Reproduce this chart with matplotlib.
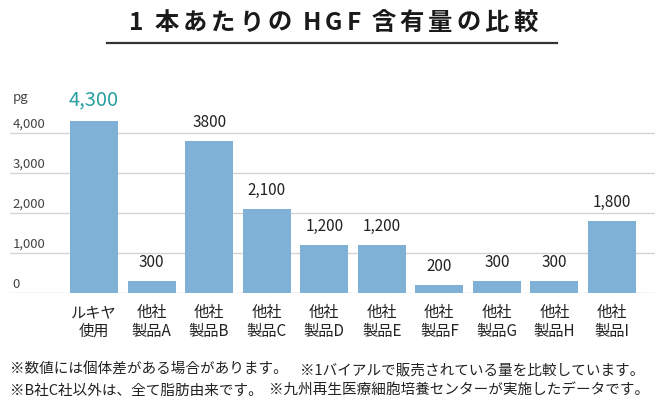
import matplotlib
matplotlib.use("Agg")
import matplotlib.pyplot as plt
from matplotlib.lines import Line2D
from matplotlib.font_manager import FontProperties

plt.rcParams['font.family'] = ['Noto Sans CJK JP', 'DejaVu Sans']

categories = ["ルキヤ\n使用", "他社\n製品A", "他社\n製品B", "他社\n製品C", "他社\n製品D",
              "他社\n製品E", "他社\n製品F", "他社\n製品G", "他社\n製品H", "他社\n製品I"]
values = [4300, 300, 3800, 2100, 1200, 1200, 200, 300, 300, 1800]
value_labels = ["4,300", "300", "3800", "2,100", "1,200", "1,200", "200", "300", "300", "1,800"]
yticks = [0, 1000, 2000, 3000, 4000]
ytick_labels = ["0", "1,000", "2,000", "3,000", "4,000"]
unit = "pg"
title = "1 本あたりの HGF 含有量の比較"
notes = [("※数値には個体差がある場合があります。", "※1バイアルで販売されている量を比較しています。"),
         ("※B社C社以外は、全て脂肪由来です。", "※九州再生医療細胞培養センターが実施したデータです。")]

W, H = 666, 412
fig = plt.figure(figsize=(W / 100, H / 100), dpi=100)

def fx(px):
    return px / W

def fy(py):
    return 1 - py / H

BAR = "#7fb1d6"
TEAL = "#2a9fa0"
TXT = "#222222"
GRID = "#d4d4d4"

# axes in pixel coordinates: x 10..655, y 93..293
ax_left, ax_right, ax_top, ax_bottom = 10, 655, 93, 293
ax = fig.add_axes([fx(ax_left), fy(ax_bottom), (ax_right - ax_left) / W, (ax_bottom - ax_top) / H])
ax.set_ylim(0, 5000)
step = 57.56
ax.set_xlim((ax_left - 94) / step, (ax_right - 94) / step)
ax.axis('off')

for t, tl in zip(yticks, ytick_labels):
    ax.axhline(t, color=GRID, lw=1.0, zorder=0)
    ax.annotate(tl, xy=(0.004, t), xycoords=('axes fraction', 'data'),
                xytext=(0, 1.5), textcoords='offset points', ha='left', va='bottom',
                fontsize=9.5, color="#444444")

ax.text(0.004, 4900, unit, transform=ax.get_yaxis_transform(), ha='left', va='center',
        fontsize=9.5, color="#444444")

xs = list(range(len(values)))
ax.bar(xs, values, width=0.834, color=BAR, zorder=2)

for i, (v, lab) in enumerate(zip(values, value_labels)):
    if i == 0:
        ax.annotate(lab, xy=(i, v), xytext=(0, 7.5), textcoords='offset points', ha='center',
                    va='bottom', fontsize=14.5, color=TEAL)
    else:
        ax.annotate(lab, xy=(i, v), xytext=(0, 7), textcoords='offset points', ha='center',
                    va='bottom', fontsize=11, color=TXT)

for i, c in enumerate(categories):
    ax.annotate(c, xy=(i, 0), xytext=(0, -8), textcoords='offset points', ha='center',
                va='top', fontsize=11, color=TXT, linespacing=1.15)

# title with letter spacing
renderer = fig.canvas.get_renderer()
tfp = FontProperties(family=['Noto Sans CJK JP', 'DejaVu Sans'], size=17.5, weight='bold')
tracking = 4.0
widths = []
for ch in title:
    if ch == ' ':
        widths.append(3.0)
    else:
        w, h, d = renderer.get_text_width_height_descent(ch, tfp, ismath=False)
        widths.append(w)
total = sum(widths) + tracking * (len(title) - 1)
x = 333 - total / 2
for ch, w in zip(title, widths):
    if ch != ' ':
        fig.text(fx(x), fy(23), ch, ha='left', va='center', fontproperties=tfp, color="#1a1a1a")
    x += w + tracking
fig.add_artist(Line2D([fx(107), fx(557)], [fy(43), fy(43)], color="#333333", lw=1.6))

# notes
note_y = [370, 391]
note_x2 = [300, 269]
for (a, b), y, x2 in zip(notes, note_y, note_x2):
    fig.text(fx(10), fy(y), a, ha='left', va='center', fontsize=10.5, color=TXT)
    fig.text(fx(x2), fy(y), b, ha='left', va='center', fontsize=10.5, color=TXT)

fig.savefig("out.png", dpi=100)
